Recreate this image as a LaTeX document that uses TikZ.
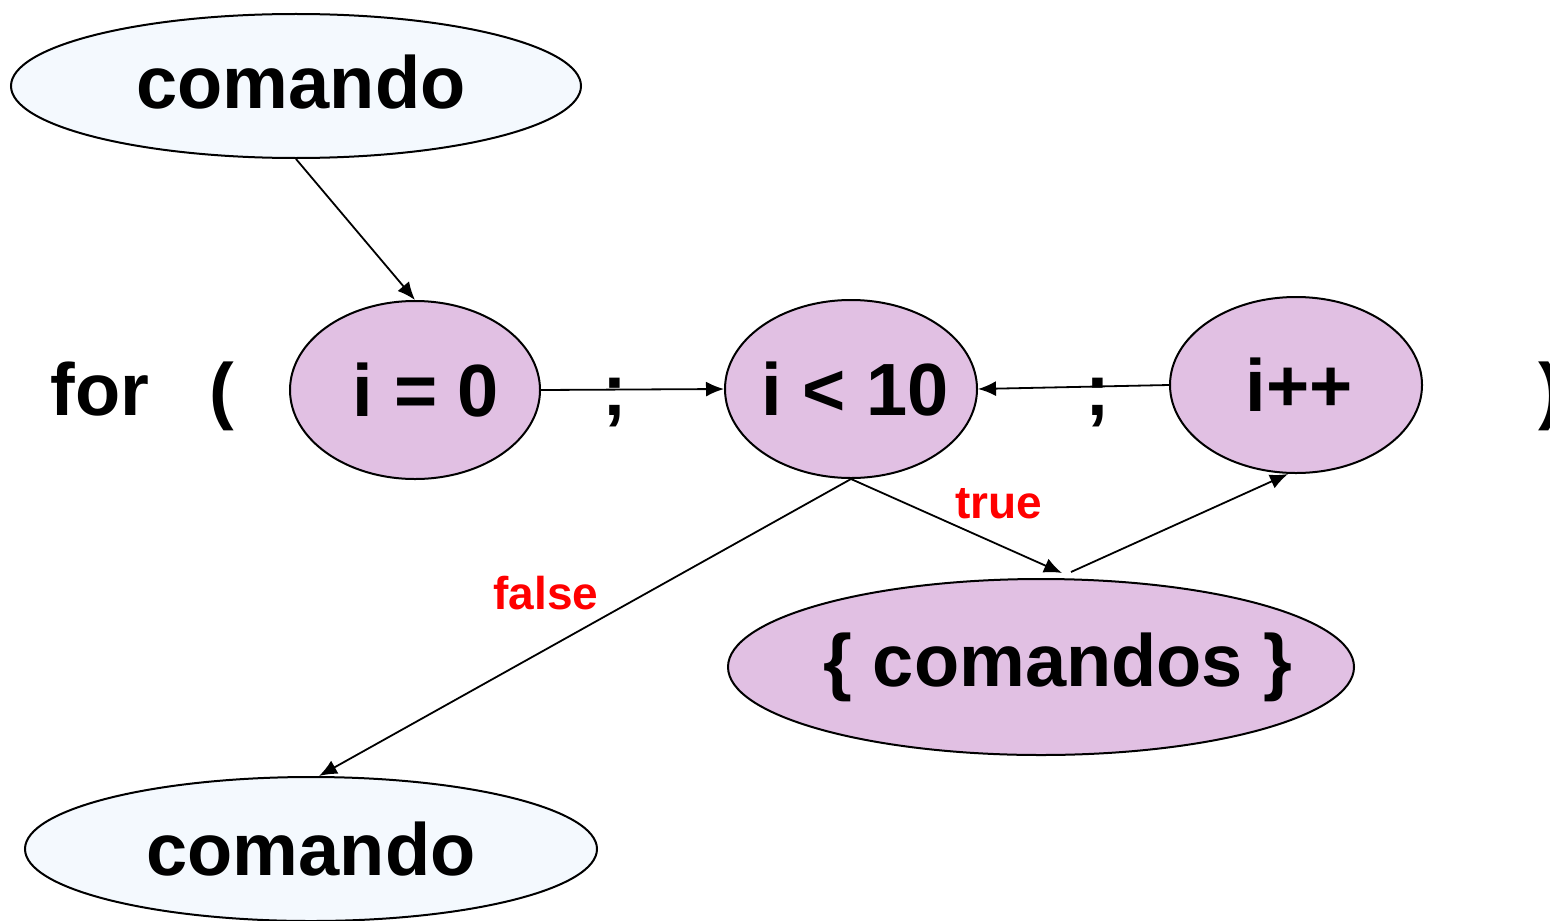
\documentclass[tikz,border=0pt]{standalone}
\usepackage{fontspec}
\setmainfont{Liberation Sans}
\usetikzlibrary{shapes.geometric,arrows.meta}
\definecolor{lav}{HTML}{E1C0E3}
\definecolor{pale}{HTML}{F4F9FE}
\begin{document}
\begin{tikzpicture}[x=0.5pt,y=-0.5pt,
  ell/.style={ellipse, draw, line width=1pt, inner sep=0pt},
  txt/.style={inner sep=0pt, font=\fontsize{37}{44}\selectfont\bfseries},
  conn/.style={-{Latex[length=9pt,width=7.5pt]}, line width=0.9pt},
  lbl/.style={text=red, inner sep=0pt, font=\fontsize{23}{28}\selectfont\bfseries},
  word/.style={inner sep=0pt, font=\fontsize{37}{44}\selectfont\bfseries}]
\useasboundingbox (0,0) rectangle (1550,920);
\node[ell, fill=pale, minimum width=285pt, minimum height=72pt,
  label={[txt, xshift=2.5pt, yshift=2pt]center:comando}] (c1) at (296,86) {};
\node[ell, fill=lav, minimum width=125pt, minimum height=89pt,
  label={[txt, xshift=5.5pt]center:i = 0}] (i0) at (415,390) {};
\node[ell, fill=lav, minimum width=126pt, minimum height=89pt,
  label={[txt, xshift=2pt]center:i < 10}] (c10) at (851,389) {};
\node[ell, fill=lav, minimum width=126pt, minimum height=88pt,
  label={[txt, xshift=1.5pt]center:i++}] (ipp) at (1296,385) {};
\node[ell, fill=lav, minimum width=313pt, minimum height=88pt,
  label={[txt, xshift=8.5pt]center:\{ comandos \}}] (cmds) at (1041,667) {};
\node[ell, fill=pale, minimum width=286pt, minimum height=72pt,
  label={[txt]center:comando}] (c2) at (311,849) {};
\node[word, anchor=base] (for) at (100,415) {for};
\node[word, anchor=base] (lp) at (222,415) {(};
\node[word, anchor=base] (s1) at (615,415) {;};
\node[word, anchor=base] (s2) at (1098,415) {;};
\node[word, anchor=base west] (rp) at (1538,415) {)};
\node[lbl, anchor=base] (tr) at (999,518) {true};
\node[lbl, anchor=base] (fl) at (546,609) {false};
\draw[conn] (c1.south) -- (i0.north);
\draw[conn] (i0.east) -- (c10.west);
\draw[conn] (ipp.west) -- (c10.east);
\draw[conn] (c10.south) -- ([xshift=4pt]c2.north);
\draw[conn] (c10.south) -- ([xshift=10.5pt,yshift=2.5pt]cmds.north);
\draw[conn] ([xshift=15pt,yshift=3pt]cmds.north) -- ([xshift=-4pt]ipp.south);
\end{tikzpicture}
\end{document}
